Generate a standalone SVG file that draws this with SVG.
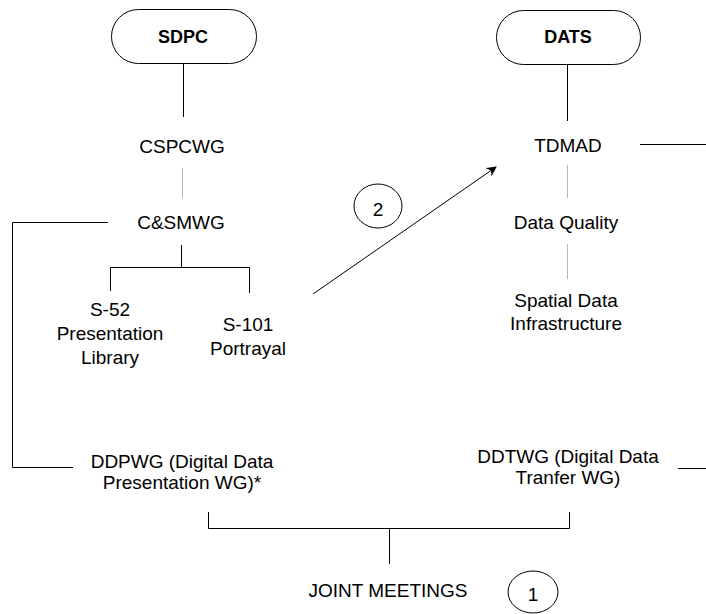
<svg xmlns="http://www.w3.org/2000/svg" width="706" height="614" viewBox="0 0 706 614">
<defs>
<style>
text{font-family:"Liberation Sans",Arial,sans-serif;font-size:19px;fill:#000;text-anchor:middle}
.b{font-weight:bold;font-size:18px}
.pill{fill:#fff;stroke:#000;stroke-width:1}
.ln{stroke:#000;stroke-width:1;fill:none}
.gl{stroke:#b8b8b8;stroke-width:1;fill:none}
</style>
<marker id="ah" markerWidth="10" markerHeight="10" refX="9" refY="5" orient="auto" markerUnits="userSpaceOnUse" viewBox="0 0 10 10">
<path d="M0,0 L10,5 L0,10 L3,5 z" fill="#000"/>
</marker>
</defs>
<rect width="706" height="614" fill="#fff"/>
<g id="connectors">
<path class="ln" d="M183.5,63 V117"/>
<path class="gl" d="M182.5,168 V198"/>
<path class="ln" d="M108,222.5 H12.5 V467.5 H73"/>
<path class="ln" d="M181.5,245 V267.5 M110.5,291 V267.5 H249.5 V293"/>
<path class="ln" d="M313,294 L496,167" marker-end="url(#ah)"/>
<path class="ln" d="M567.5,64 V121"/>
<path class="ln" d="M640,144.5 H706"/>
<path class="gl" d="M567.5,165 V198 M567.5,244 V279"/>
<path class="ln" d="M678,468.5 H706"/>
<path class="ln" d="M208.5,512 V528.5 H569.5 V512 M389.5,528 V564"/>
</g>
<g id="SDPC"><rect class="pill" x="111.5" y="9.5" width="145" height="54" rx="27"/><text class="b" x="183" y="43">SDPC</text></g>
<g id="DATS"><rect class="pill" x="496.5" y="10.5" width="144" height="54" rx="27"/><text class="b" x="568" y="43">DATS</text></g>
<g id="CSPCWG"><text x="182" y="153">CSPCWG</text></g>
<g id="CSMWG"><text x="181" y="229">C&amp;SMWG</text></g>
<g id="S52"><text x="110" y="316">S-52</text><text x="110" y="340">Presentation</text><text x="110" y="364">Library</text></g>
<g id="S101"><text x="248" y="331">S-101</text><text x="248" y="355">Portrayal</text></g>
<g id="circle2"><ellipse class="pill" cx="378" cy="206" rx="24" ry="22"/><text x="378" y="216">2</text></g>
<g id="TDMAD"><text x="568" y="152">TDMAD</text></g>
<g id="DataQuality"><text x="566" y="229">Data Quality</text></g>
<g id="SDI"><text x="566" y="307">Spatial Data</text><text x="566" y="330">Infrastructure</text></g>
<g id="DDPWG"><text x="182" y="468">DDPWG (Digital Data</text><text x="182" y="489">Presentation WG)*</text></g>
<g id="DDTWG"><text x="568" y="463">DDTWG (Digital Data</text><text x="568" y="484">Tranfer WG)</text></g>
<g id="JointMeetings"><text x="388" y="597">JOINT MEETINGS</text></g>
<g id="circle1"><ellipse class="pill" cx="533" cy="592" rx="25" ry="21"/><text x="533" y="601">1</text></g>
</svg>
